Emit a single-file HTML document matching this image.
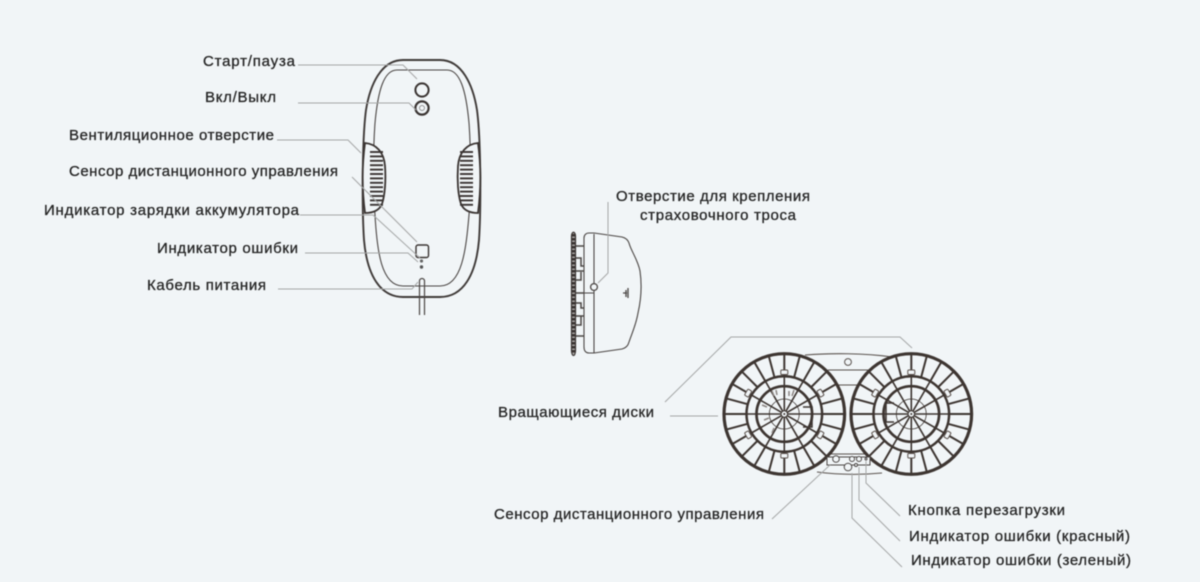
<!DOCTYPE html>
<html lang="ru">
<head>
<meta charset="utf-8">
<style>
html,body{margin:0;padding:0;background:#f1f5f7;width:1200px;height:582px;overflow:hidden}
svg{display:block;filter:blur(.5px)}
text{font-family:"Liberation Sans",sans-serif;font-size:15px;fill:#262626;stroke:#262626;stroke-width:.3px}
.l{fill:none;stroke:#a5a7a7;stroke-width:1}
.d{fill:none;stroke:#3d3531}
</style>
</head>
<body>
<svg width="1200" height="582" viewBox="0 0 1200 582" xmlns="http://www.w3.org/2000/svg">
<defs>
<g id="sp"><line x1="0" y1="-38" x2="0" y2="-60"/></g>
<g id="sp4">
<use href="#sp"/><use href="#sp" transform="rotate(15)"/><use href="#sp" transform="rotate(30)"/><use href="#sp" transform="rotate(45)"/>
<use href="#sp" transform="rotate(60)"/><use href="#sp" transform="rotate(75)"/>
</g>
<g id="dia"><line x1="0" y1="-37" x2="0" y2="37"/></g>
<rect id="tab" x="-3.500" y="-44" width="7" height="4.500" rx="1" fill="#f1f5f7" stroke="#5a504b" stroke-width="1"/>
<g id="disk" class="d">
<circle r="60.300" fill="none" stroke-width="3.200"/>
<circle r="37.800" fill="none" stroke-width="2.500"/>
<circle r="27.800" fill="none" stroke-width="2.700"/>
<circle r="15" fill="none" stroke-width=".8"/>
<g stroke-width="2">
<use href="#sp4"/><use href="#sp4" transform="rotate(90)"/><use href="#sp4" transform="rotate(180)"/><use href="#sp4" transform="rotate(270)"/>
</g>
<g stroke-width="1.600">
<use href="#dia"/><use href="#dia" transform="rotate(30)"/><use href="#dia" transform="rotate(60)"/><use href="#dia" transform="rotate(90)"/><use href="#dia" transform="rotate(120)"/><use href="#dia" transform="rotate(150)"/>
</g>
<use href="#tab"/><use href="#tab" transform="rotate(60)"/><use href="#tab" transform="rotate(120)"/><use href="#tab" transform="rotate(180)"/><use href="#tab" transform="rotate(240)"/><use href="#tab" transform="rotate(300)"/>
<circle r="3.200" fill="#f1f5f7" stroke-width="1"/>
<circle r="1" fill="#3d3531" stroke="none"/>
</g>
<g id="slots" stroke="#3a3432" stroke-width="1.900">
<line x1="0" y1="0" x2="13" y2="0"/><line x1="0" y1="4.400" x2="13" y2="4.400"/><line x1="0" y1="8.800" x2="13" y2="8.800"/><line x1="0" y1="13.200" x2="13" y2="13.200"/><line x1="0" y1="17.600" x2="13" y2="17.600"/><line x1="0" y1="22" x2="13" y2="22"/><line x1="0" y1="26.400" x2="13" y2="26.400"/><line x1="0" y1="30.800" x2="13" y2="30.800"/><line x1="0" y1="35.200" x2="13" y2="35.200"/><line x1="0" y1="39.600" x2="13" y2="39.600"/><line x1="0" y1="44" x2="13" y2="44"/><line x1="0" y1="48.400" x2="13" y2="48.400"/><line x1="0" y1="52.800" x2="13" y2="52.800"/>
</g>
</defs>

<!-- Robot front -->
<path d="M403 60 H440 C462 60 473 85 477 110 C481 140 481 210 479 240 C476 275 463 297 440 297 H403 C380 297 367 275 364 240 C362 210 362 140 366 110 C370 85 381 60 403 60 Z" fill="none" stroke="#3f3a38" stroke-width="1.900"/>
<path d="M397 70 H447 C460 70 466 90 469 123 C471 150 471 190 469 215 C466 250 462 286 440 286 H403 C381 286 377 250 375 215 C373 190 373 150 375 123 C378 90 384 70 397 70 Z" fill="none" stroke="#4b4644" stroke-width="1.100"/>
<path d="M365 143 C376 144 384 152 385 166 C386 180 385 195 382 204 C379 211 372 213 365 213 C362 190 362 165 365 143 Z" fill="#f1f5f7" stroke="#3a3432" stroke-width="1.800"/>
<path d="M478 143 C467 144 459 152 458 166 C457 180 458 195 461 204 C464 211 471 213 478 213 C481 190 481 165 478 143 Z" fill="#f1f5f7" stroke="#3a3432" stroke-width="1.800"/>
<use href="#slots" x="370" y="152"/>
<use href="#slots" x="460" y="152"/>
<circle cx="422" cy="90" r="6.600" fill="none" stroke="#3a3432" stroke-width="2"/>
<circle cx="422" cy="108" r="6.600" fill="none" stroke="#3a3432" stroke-width="2.200"/>
<circle cx="422" cy="108" r="2.500" fill="none" stroke="#777" stroke-width=".7"/>
<rect x="416" y="245" width="12.500" height="12.500" rx="2" fill="none" stroke="#3a3432" stroke-width="1.400"/>
<circle cx="421.500" cy="261" r="1.600" fill="#666"/>
<circle cx="421.500" cy="267" r="1.700" fill="#555"/>
<path d="M419.500 315 V281 A2.500 2.500 0 0 1 424.500 281 V315" fill="none" stroke="#4b4644" stroke-width="1.200"/>

<!-- Front leaders -->
<path class="l" d="M298 65 H403 L417 79"/>
<path class="l" d="M298 103 H409 L416 110"/>
<path class="l" d="M277 140 H348 L361 153"/>
<path class="l" d="M352 177 L417 242"/>
<path class="l" d="M300 215 H373 L420 258"/>
<path class="l" d="M305 253 H408 L418 262"/>
<path class="l" d="M278 289 H412 L418 282"/>

<!-- Side view -->
<g fill="none" stroke="#4b4644">
<path d="M571.500 236 C572 231 575 231 575.500 236 V351 C575 357 572 357 571.500 351 Z" fill="#a8a5a3" stroke="#3a3432" stroke-width="1.200"/>
<line x1="573.500" y1="234" x2="573.500" y2="353" stroke="#3a3432" stroke-width="4.500" stroke-dasharray="2.500 1.500"/>
<path d="M584 347 V238 C584 235 586 233 589 233 H594 L622 237 C626 238 628 240 629 243 C631 251 638 260 640 271 C642 285 641 300 638 313 C636 325 632 333 629 342 C628 346 626 348 622 349 L594 353 H589 C586 353 584 351 584 347 Z" stroke-width="1.100"/>
<line x1="594" y1="234" x2="594" y2="353" stroke-width="1.100"/>
<line x1="584" y1="293" x2="594" y2="293" stroke-width="1"/>
<path d="M576 246 H584 M576 258 H581 V266 H584 M576 271 H584 M576 280 H581 V272 M576 293 H584 M576 303 H581 V308 H584 M576 316 H584 M576 325 H581 V316 M576 336 H584" stroke-width="1.500"/>
<circle cx="594" cy="287" r="3.400" stroke-width="1.300" fill="#f1f5f7"/>
<path d="M623 293 H627 M626 290 V297 M628 288 V298" stroke-width="1.300"/>
</g>
<path class="l" d="M608 202 V273 L598 283"/>

<!-- Bottom view body -->
<g fill="none" stroke="#5a524e">
<path d="M805 355 C830 353 865 353 892 357" stroke-width="1.100"/>
<path d="M828 370 H868 M838 385 H860 M828 454 H867" stroke-width="1"/>
<path d="M817 472 C840 475 860 475 882 473" stroke-width="1"/>
<circle cx="848" cy="362" r="3.400" stroke-width="1"/>
</g>
<use href="#disk" x="784.300" y="414"/>
<use href="#disk" x="911.300" y="414"/>
<path d="M803 407 H812 V427 H803" fill="none" stroke="#3d3531" stroke-width="1.500"/>
<path d="M894 403 H886 V422 H894" fill="none" stroke="#3d3531" stroke-width="1.500"/>
<path d="M772 391 L774 396 M776 390 L777 395 M789 391 V396 M794 390 L792 396 M762 405 L767 407 M764 420 L769 418 M772 433 L774 428" fill="none" stroke="#8a8481" stroke-width="1.500"/>
<g fill="#f1f5f7" stroke="#4b4644" stroke-width="1">
<rect x="827" y="457" width="43" height="8"/>
<circle cx="836" cy="459" r="3.300"/>
<circle cx="852" cy="459" r="2.500"/>
<circle cx="859" cy="459" r="2.500"/>
<circle cx="866" cy="459" r="1"/>
<circle cx="848" cy="467" r="3.800"/>
<circle cx="856" cy="465" r="1.500"/>
</g>

<!-- Bottom leaders -->
<path class="l" d="M665 402 L731 337 H900 L912 348"/>
<path class="l" d="M670 416 H718"/>
<path class="l" d="M772 519 L830 465"/>
<path class="l" d="M866 461 V483 L900 516"/>
<path class="l" d="M859 467 V500 L900 541"/>
<path class="l" d="M852 473 V518 L902 567"/>

<!-- Labels -->
<text x="203" y="66" textLength="92">Старт/пауза</text>
<text x="205" y="102" textLength="71">Вкл/Выкл</text>
<text x="69" y="140" textLength="205">Вентиляционное отверстие</text>
<text x="69" y="176" textLength="269">Сенсор дистанционного управления</text>
<text x="44" y="215" textLength="255">Индикатор зарядки аккумулятора</text>
<text x="157" y="253" textLength="141">Индикатор ошибки</text>
<text x="147" y="290" textLength="119">Кабель питания</text>
<text x="616" y="201" textLength="194">Отверстие для крепления</text>
<text x="640" y="220" textLength="156">страховочного троса</text>
<text x="498" y="417" textLength="156">Вращающиеся диски</text>
<text x="494" y="519" textLength="270">Сенсор дистанционного управления</text>
<text x="908" y="515" textLength="157">Кнопка перезагрузки</text>
<text x="909" y="541" textLength="221">Индикатор ошибки (красный)</text>
<text x="911" y="565" textLength="220">Индикатор ошибки (зеленый)</text>
</svg>
</body>
</html>
